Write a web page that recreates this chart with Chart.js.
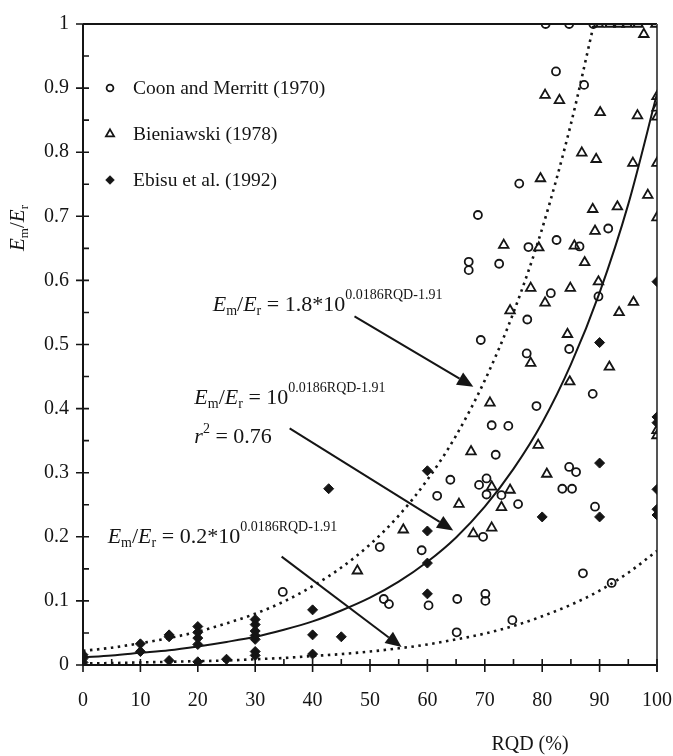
<!DOCTYPE html>
<html><head><meta charset="utf-8">
<script src="https://cdn.jsdelivr.net/npm/chart.js@4/dist/chart.umd.min.js"></script>
<style>html,body{margin:0;padding:0;background:#fff}</style>
</head><body>
<canvas id="c" width="673" height="756"></canvas>
<script>
// ---------- DATA ----------
const seriesNames = ['Coon and Merritt (1970)', 'Bieniawski (1978)', 'Ebisu et al. (1992)'];

const coonX = [80.6,84.7,88.9,82.4,87.3,76.0,68.8,91.5,82.5,77.6,86.5,67.2,67.2,72.5,81.5,89.8,77.4,84.7,69.3,77.3,88.8,79.0,71.2,74.1,71.9,84.7,85.9,83.5,85.2,70.3,69.0,64.0,61.7,70.3,72.9,75.8,89.2,69.7,51.7,59.0,34.8,52.4,53.3,60.2,65.2,70.1,70.1,87.1,92.1,74.8,65.1];
const coonY = [1.0,1.0,1.0,0.926,0.905,0.751,0.702,0.681,0.663,0.652,0.653,0.629,0.616,0.626,0.580,0.575,0.539,0.493,0.507,0.486,0.423,0.404,0.374,0.373,0.328,0.309,0.301,0.275,0.275,0.291,0.281,0.289,0.264,0.266,0.265,0.251,0.247,0.200,0.184,0.179,0.114,0.103,0.095,0.093,0.103,0.111,0.100,0.143,0.128,0.070,0.051];

const bieniX = [89.8,91.8,93.4,94.8,96.7,99.8,97.7,80.5,83.0,90.1,96.6,100,100,100,86.9,89.4,95.8,100,79.7,98.4,88.8,93.1,100,89.2,73.3,79.4,85.6,87.4,78.0,84.9,89.8,80.5,95.9,93.4,74.4,84.4,78.0,91.7,84.8,70.9,79.3,67.6,80.8,71.2,74.4,65.5,72.9,100,100,55.8,68.0,71.2,47.8];
const bieniY = [1.0,1.0,1.0,1.0,1.0,1.0,0.984,0.889,0.881,0.862,0.857,0.887,0.869,0.855,0.799,0.789,0.783,0.783,0.759,0.733,0.711,0.715,0.698,0.677,0.655,0.651,0.654,0.628,0.588,0.588,0.598,0.565,0.566,0.550,0.553,0.516,0.471,0.465,0.442,0.409,0.343,0.333,0.298,0.278,0.273,0.251,0.246,0.366,0.358,0.211,0.205,0.214,0.147];

const ebisuX = [0,0,0,10,10,15,15,15,20,20,20,20,20,25,30,30,30,30,30,30,30,40,40,40,42.8,45,60,60,60,60,80,90,90,90,100,100,100,100,100,100];
const ebisuY = [0.016,0.010,0.004,0.033,0.021,0.047,0.044,0.007,0.060,0.051,0.042,0.032,0.005,0.009,0.071,0.063,0.053,0.046,0.040,0.021,0.015,0.086,0.047,0.017,0.275,0.044,0.303,0.209,0.159,0.111,0.231,0.503,0.315,0.231,0.598,0.387,0.378,0.274,0.243,0.234];

// fitted curves
const curveX = [0,5,10,15,20,25,30,35,40,45,50,55,60,65,70,75,80,85,90,95,100];
const fitMid = [0.012,0.015,0.019,0.023,0.029,0.036,0.044,0.055,0.068,0.085,0.105,0.130,0.161,0.199,0.247,0.306,0.378,0.469,0.581,0.719,0.891];
const fitLow = [0.0025,0.003,0.004,0.005,0.006,0.007,0.009,0.011,0.014,0.017,0.021,0.026,0.032,0.040,0.049,0.061,0.076,0.094,0.116,0.144,0.178];
const upperX = [0,5,10,15,20,25,30,35,40,45,50,55,60,65,70,75,80,85,89];
const fitUp = [0.022,0.027,0.034,0.042,0.052,0.065,0.080,0.099,0.123,0.152,0.188,0.233,0.289,0.358,0.444,0.550,0.681,0.844,1.0];

// arrows (data units)
const arrowFromX = [47.3, 36.0, 34.6];
const arrowFromY = [0.544, 0.369, 0.169];
const arrowToX = [68.0, 64.5, 55.5];
const arrowToY = [0.434, 0.210, 0.028];

// tick labels
const xTicks = [0,10,20,30,40,50,60,70,80,90,100];
const yTicks = ['0','0.1','0.2','0.3','0.4','0.5','0.6','0.7','0.8','0.9','1'];

// ---------- helpers ----------
const FONT = "'Liberation Serif','Times New Roman',serif";
const INK = '#151515';
const zip = (xs, ys) => xs.map((x, i) => ({x, y: ys[i]}));

function segWidth(ctx, segs) {
  let w = 0;
  for (const s of segs) { ctx.font = (s.i ? 'italic ' : '') + s.s + 'px ' + FONT; w += ctx.measureText(s.t).width; }
  return w;
}
function drawRich(ctx, x, y, segs) {
  let cx = x;
  for (const s of segs) {
    ctx.font = (s.i ? 'italic ' : '') + s.s + 'px ' + FONT;
    ctx.fillText(s.t, cx, y + (s.dy || 0));
    cx += ctx.measureText(s.t).width;
  }
}
function eqSegs(mid) {
  return [
    {t:'E', s:22, i:true}, {t:'m', s:14, dy:4}, {t:'/', s:22}, {t:'E', s:22, i:true}, {t:'r', s:14, dy:4},
    {t:' = ' + mid, s:22}, {t:'0.0186RQD-1.91', s:14, dy:-12}
  ];
}
const annotations = [
  {x:22.6, y:0.552, segs: eqSegs('1.8*10')},
  {x:19.4, y:0.407, segs: eqSegs('10')},
  {x:19.4, y:0.346, segs: [{t:'r', s:22, i:true}, {t:'2', s:14, dy:-10}, {t:' = 0.76', s:22}]},
  {x:4.3, y:0.190, segs: eqSegs('0.2*10')}
];

const framePlugin = {
  id: 'frame',
  beforeDatasetsDraw(chart) {
    const {ctx, chartArea: a, scales: {x, y}} = chart;
    ctx.save();
    ctx.strokeStyle = INK; ctx.lineWidth = 2;
    ctx.beginPath();
    ctx.moveTo(a.left, a.top); ctx.lineTo(a.right, a.top);
    ctx.moveTo(a.left, a.top); ctx.lineTo(a.left, a.bottom);
    ctx.moveTo(a.left, a.bottom); ctx.lineTo(a.right, a.bottom);
    ctx.stroke();
    ctx.strokeStyle = '#555';
    ctx.beginPath(); ctx.moveTo(a.right, a.top); ctx.lineTo(a.right, a.bottom + 7); ctx.stroke();
    ctx.strokeStyle = INK; ctx.lineWidth = 1.6;
    ctx.beginPath();
    for (let v = 0; v <= 100; v += 5) {
      const px = x.getPixelForValue(v);
      if (v % 10 === 0) { ctx.moveTo(px, a.bottom - 6); ctx.lineTo(px, a.bottom + 7); }
      else { ctx.moveTo(px, a.bottom - 6); ctx.lineTo(px, a.bottom); }
    }
    for (let k = 0; k <= 20; k++) {
      const py = y.getPixelForValue(k * 0.05);
      if (k % 2 === 0) { ctx.moveTo(a.left - 7, py); ctx.lineTo(a.left + 6, py); }
      else { ctx.moveTo(a.left, py); ctx.lineTo(a.left + 6, py); }
    }
    ctx.stroke();
    ctx.restore();
  },
  afterDatasetsDraw(chart) {
    const {ctx, chartArea: a, scales: {x, y}} = chart;
    ctx.save();
    ctx.fillStyle = INK; ctx.strokeStyle = INK;
    ctx.textBaseline = 'alphabetic'; ctx.textAlign = 'left';
    for (const an of annotations) drawRich(ctx, x.getPixelForValue(an.x), y.getPixelForValue(an.y), an.segs);
    for (let i = 0; i < arrowFromX.length; i++) {
      const x0 = x.getPixelForValue(arrowFromX[i]), y0 = y.getPixelForValue(arrowFromY[i]);
      const x1 = x.getPixelForValue(arrowToX[i]), y1 = y.getPixelForValue(arrowToY[i]);
      const ang = Math.atan2(y1 - y0, x1 - x0), L = 16, W = 7;
      const bx = x1 - L * Math.cos(ang), by = y1 - L * Math.sin(ang);
      ctx.lineWidth = 2;
      ctx.beginPath(); ctx.moveTo(x0, y0); ctx.lineTo(bx, by); ctx.stroke();
      ctx.beginPath(); ctx.moveTo(x1, y1);
      ctx.lineTo(bx + W * Math.sin(ang), by - W * Math.cos(ang));
      ctx.lineTo(bx - W * Math.sin(ang), by + W * Math.cos(ang));
      ctx.closePath(); ctx.fill();
    }
    const styles = chart.data.datasets.slice(0, 3);
    for (let i = 0; i < 3; i++) {
      const lx = a.left + 27, ly = a.top + 64 + i * 46;
      const d = styles[i];
      ctx.lineWidth = d.borderWidth; ctx.strokeStyle = d.borderColor; ctx.fillStyle = d.backgroundColor;
      Chart.helpers.drawPoint(ctx, {pointStyle: d.pointStyle, radius: d.pointRadius * 0.85, borderWidth: d.borderWidth, rotation: 0}, lx, ly);
      ctx.fillStyle = INK;
      ctx.font = '19.5px ' + FONT; ctx.textBaseline = 'middle';
      ctx.fillText(seriesNames[i], lx + 23, ly + 1);
    }
    ctx.textBaseline = 'alphabetic';
    ctx.font = '20px ' + FONT; ctx.textAlign = 'center';
    ctx.fillText('RQD (%)', 530, 750);
    ctx.textAlign = 'left';
    const ySegs = [{t:'E', s:21, i:true}, {t:'m', s:13, dy:4}, {t:'/', s:21}, {t:'E', s:21, i:true}, {t:'r', s:13, dy:4}];
    const w = segWidth(ctx, ySegs);
    ctx.translate(24, 228); ctx.rotate(-Math.PI / 2);
    drawRich(ctx, -w / 2, 0, ySegs);
    ctx.restore();
  }
};

const ptBase = {showLine: false, borderColor: INK};
new Chart(document.getElementById('c'), {
  type: 'scatter',
  data: {
    datasets: [
      {...ptBase, label: seriesNames[0], data: zip(coonX, coonY), pointStyle: 'circle', pointRadius: 4, borderWidth: 1.8, backgroundColor: 'rgba(0,0,0,0)'},
      {...ptBase, label: seriesNames[1], data: zip(bieniX, bieniY), pointStyle: 'triangle', pointRadius: 5.5, borderWidth: 1.8, backgroundColor: 'rgba(0,0,0,0)'},
      {...ptBase, label: seriesNames[2], data: zip(ebisuX, ebisuY), pointStyle: 'rectRot', pointRadius: 5, borderWidth: 1, backgroundColor: INK},
      {label: 'fit', data: zip(curveX, fitMid), showLine: true, pointRadius: 0, borderColor: INK, borderWidth: 2, cubicInterpolationMode: 'monotone'},
      {label: 'upper', data: zip(upperX, fitUp), showLine: true, pointRadius: 0, borderColor: INK, borderWidth: 2.6, borderDash: [2.5, 4.5], cubicInterpolationMode: 'monotone'},
      {label: 'lower', data: zip(curveX, fitLow), showLine: true, pointRadius: 0, borderColor: INK, borderWidth: 2.6, borderDash: [2.5, 4.5], cubicInterpolationMode: 'monotone'}
    ]
  },
  options: {
    responsive: false, animation: false,
    layout: {padding: {left: 0, right: 16, top: 24, bottom: 0}},
    plugins: {legend: {display: false}, tooltip: {enabled: false}},
    scales: {
      x: {
        type: 'linear', min: 0, max: 100,
        grid: {display: false, drawTicks: false}, border: {display: false},
        afterBuildTicks: s => { s.ticks = xTicks.map(v => ({value: v})); },
        ticks: {color: INK, font: {family: FONT, size: 20}, padding: 24, maxRotation: 0, callback: v => String(v)},
        afterFit: s => { s.height = 91; s.paddingLeft = 0; s.paddingRight = 0; }
      },
      y: {
        type: 'linear', min: 0, max: 1,
        grid: {display: false, drawTicks: false}, border: {display: false},
        afterBuildTicks: s => { s.ticks = yTicks.map(t => ({value: parseFloat(t)})); },
        ticks: {color: INK, font: {family: FONT, size: 20}, padding: 14, callback: (v, i) => yTicks[i]},
        afterFit: s => { s.width = 83; s.paddingTop = 0; s.paddingBottom = 0; }
      }
    }
  },
  plugins: [framePlugin]
});
</script>
</body></html>
